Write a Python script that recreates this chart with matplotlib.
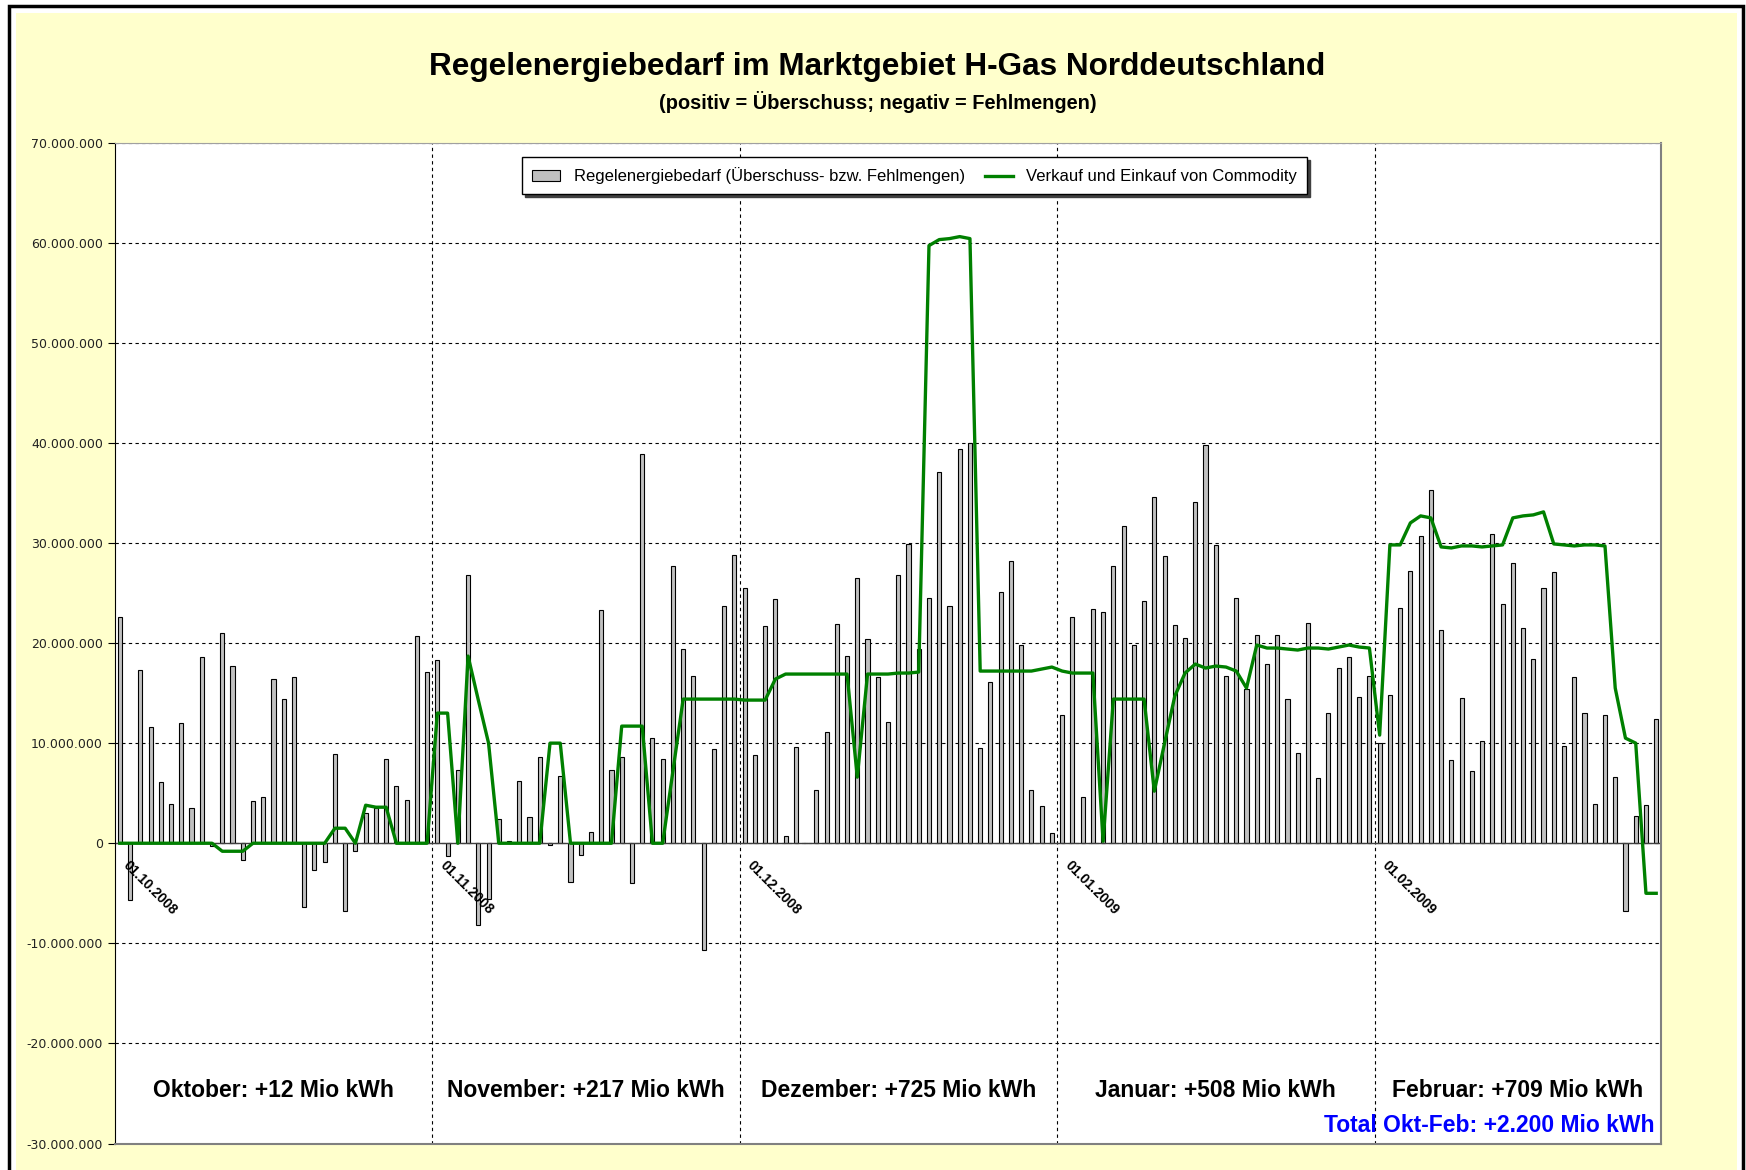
import matplotlib.pyplot as plt
from matplotlib.patches import Rectangle
from matplotlib.ticker import FuncFormatter
import numpy as np

plt.rcParams['font.family'] = ['Liberation Sans', 'DejaVu Sans']

# daily values in Mio kWh, 01.10.2008 - 28.02.2009
bedarf_okt = [22.6, -5.7, 17.3, 11.6, 6.1, 3.9, 12.0, 3.5, 18.6, -0.3, 21.0, 17.7, -1.7, 4.2, 4.6, 16.4,
              14.4, 16.6, -6.4, -2.7, -1.9, 8.9, -6.8, -0.8, 3.0, 3.5, 8.4, 5.7, 4.3, 20.7, 17.1]
bedarf_nov = [18.3, -1.3, 7.3, 26.8, -8.2, -5.6, 2.4, 0.2, 6.2, 2.6, 8.6, -0.2, 6.7, -3.9, -1.2,
              1.1, 23.3, 7.3, 8.6, -4.0, 38.9, 10.5, 8.4, 27.7, 19.4, 16.7, -10.7, 9.4, 23.7, 28.8]
bedarf_dez = [25.5, 8.8, 21.7, 24.4, 0.7, 9.6, 0.0, 5.3, 11.1, 21.9, 18.7, 26.5, 20.4, 16.6, 12.1, 26.8,
              29.9, 19.4, 24.5, 37.1, 23.7, 39.4, 40.0, 9.5, 16.1, 25.1, 28.2, 19.8, 5.3, 3.7, 1.0]
bedarf_jan = [12.8, 22.6, 4.6, 23.4, 23.1, 27.7, 31.7, 19.8, 24.2, 34.6, 28.7, 21.8, 20.5, 34.1, 39.8, 29.8,
              16.7, 24.5, 15.4, 20.8, 17.9, 20.8, 14.4, 9.0, 22.0, 6.5, 13.0, 17.5, 18.6, 14.6, 16.7]
bedarf_feb = [10.0, 14.8, 23.5, 27.2, 30.7, 35.3, 21.3, 8.3, 14.5, 7.2, 10.2, 30.9, 23.9, 28.0,
              21.5, 18.4, 25.5, 27.1, 9.7, 16.6, 13.0, 3.9, 12.8, 6.6, -6.8, 2.7, 3.8, 12.4]

commodity_okt = [0, 0, 0, 0, 0, 0, 0, 0, 0, 0, -0.8, -0.8, -0.8, 0, 0, 0,
                 0, 0, 0, 0, 0, 1.5, 1.5, 0, 3.8, 3.6, 3.6, 0, 0, 0, 0]
commodity_nov = [13.0, 13.0, 0, 18.7, 14.3, 10.0, 0, 0, 0, 0, 0, 10.0, 10.0, 0, 0,
                 0, 0, 0, 11.7, 11.7, 11.7, 0, 0, 7.2, 14.4, 14.4, 14.4, 14.4, 14.4, 14.4]
commodity_dez = [14.3, 14.3, 14.3, 16.4, 16.9, 16.9, 16.9, 16.9, 16.9, 16.9, 16.9, 6.6, 16.9, 16.9, 16.9, 17.0,
                 17.0, 17.1, 59.7, 60.3, 60.4, 60.6, 60.4, 17.2, 17.2, 17.2, 17.2, 17.2, 17.2, 17.4, 17.6]
commodity_jan = [17.2, 17.0, 17.0, 17.0, 0.2, 14.4, 14.4, 14.4, 14.4, 5.2, 10.0, 14.7, 17.0, 17.9, 17.5, 17.7,
                 17.6, 17.2, 15.5, 19.8, 19.5, 19.5, 19.4, 19.3, 19.5, 19.5, 19.4, 19.6, 19.8, 19.6, 19.5]
commodity_feb = [10.8, 29.8, 29.8, 32.0, 32.7, 32.5, 29.6, 29.5, 29.7, 29.7, 29.6, 29.7, 29.8, 32.5,
                 32.7, 32.8, 33.1, 29.9, 29.8, 29.7, 29.8, 29.8, 29.7, 15.5, 10.5, 10.0, -5.0, -5.0]

month_labels = ['01.10.2008', '01.11.2008', '01.12.2008', '01.01.2009', '01.02.2009']
month_sums = ['Oktober: +12 Mio kWh', 'November: +217 Mio kWh', 'Dezember: +725 Mio kWh',
              'Januar: +508 Mio kWh', 'Februar: +709 Mio kWh']
total_text = 'Total Okt-Feb: +2.200 Mio kWh'

bedarf_months = [bedarf_okt, bedarf_nov, bedarf_dez, bedarf_jan, bedarf_feb]
commodity_months = [commodity_okt, commodity_nov, commodity_dez, commodity_jan, commodity_feb]

bedarf = np.concatenate(bedarf_months) * 1e6
commodity = np.concatenate(commodity_months) * 1e6
month_len = [len(m) for m in bedarf_months]
month_start = np.cumsum([0] + month_len[:-1])
x = np.arange(len(bedarf))

W, H = 1746, 1170
fig = plt.figure(figsize=(W / 100, H / 100), dpi=100, facecolor='white')
# black frame, thin white margin, yellow chart area
fig.add_artist(Rectangle((9 / W, -0.02), (1743 - 9) / W, 1 - 6 / H + 0.02,
                         transform=fig.transFigure, facecolor='white',
                         edgecolor='black', lw=2.5, zorder=-2))
fig.add_artist(Rectangle((16 / W, -0.02), (1737 - 16) / W, 1 - 13 / H + 0.02,
                         transform=fig.transFigure, facecolor='#FFFFCC',
                         edgecolor='none', zorder=-1))

ax = fig.add_axes([0.0657, 0.0226, 0.9515 - 0.0657, 0.8782 - 0.0226])
ax.set_facecolor('white')

bars = ax.bar(x, bedarf, width=0.4, color='#C0C0C0', edgecolor='black', linewidth=0.8,
              label='Regelenergiebedarf (Überschuss- bzw. Fehlmengen)', zorder=2)
line, = ax.plot(x, commodity, color='#008000', lw=2.4,
                label='Verkauf und Einkauf von Commodity', zorder=3)

ax.set_xlim(-0.5, len(x) - 0.5)
ax.set_ylim(-30e6, 70e6)
ax.set_yticks(np.arange(-30e6, 70e6 + 1, 10e6))
ax.yaxis.set_major_formatter(FuncFormatter(lambda v, p: f'{int(round(v)):,}'.replace(',', '.')))
ax.tick_params(axis='y', length=5, direction='out', labelsize=9, labelcolor='#222222')
for lbl in ax.get_yticklabels():
    lbl.set_fontfamily('DejaVu Sans')
ax.set_xticks([])
ax.yaxis.grid(True, linestyle=(0, (3, 3)), color='black', lw=0.8, zorder=1)
ax.set_axisbelow(True)

for s in month_start[1:]:
    ax.axvline(s - 0.5, color='black', linestyle=(0, (3, 3)), lw=0.8, zorder=1)
ax.axhline(0, color='#404040', lw=1.0, zorder=2.5)

for s, lab in zip(month_start, month_labels):
    ax.text(s + 0.5, -2.0e6, lab, rotation=-45, rotation_mode='anchor', ha='left', va='center',
            fontsize=10, fontweight='bold', zorder=4)

for s, n, txt in zip(month_start, month_len, month_sums):
    ax.text(s + n / 2 - 0.5, -24.7e6, txt, ha='center', va='center', fontsize=16.5, fontweight='bold')
ax.text(len(x) - 1.2, -28.2e6, total_text, ha='right', va='center', fontsize=16.5,
        fontweight='bold', color='#0000FF')

ax.spines['left'].set_color('black')
ax.spines['top'].set_color('#A0A0A0')
for sp in ['right', 'bottom']:
    ax.spines[sp].set_color('#808080')
    ax.spines[sp].set_linewidth(1.5)

fig.text(0.5022, 1 - 67 / H, 'Regelenergiebedarf im Marktgebiet H-Gas Norddeutschland',
         ha='center', va='center', fontsize=22.7, fontweight='bold')
fig.text(0.503, 1 - 102 / H, '(positiv = Überschuss; negativ = Fehlmengen)',
         ha='center', va='center', fontsize=14.4, fontweight='bold')

fig.legend(handles=[bars, line], loc='center', bbox_to_anchor=(0.5238, 0.8496), ncol=2,
           fontsize=12, frameon=True, fancybox=False,
           shadow={'color': '#404040', 'alpha': 1, 'ox': 2, 'oy': -2},
           edgecolor='black', framealpha=1, handlelength=1.7, handleheight=0.6,
           columnspacing=1.2, borderpad=0.6)

fig.savefig('out.png', dpi=100)
